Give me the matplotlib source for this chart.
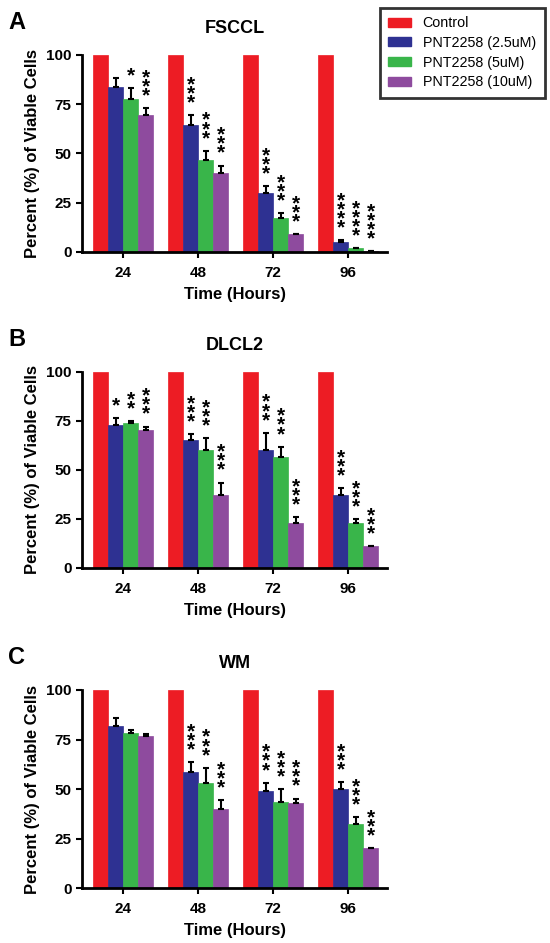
import matplotlib
matplotlib.use('Agg')
import matplotlib.pyplot as plt
import numpy as np
from matplotlib.patches import Patch

plt.rcParams['font.family'] = ['Liberation Sans', 'DejaVu Sans']

# DATA
hours = ['24', '48', '72', '96']
groups = ['Control', 'PNT2258 (2.5uM)', 'PNT2258 (5uM)', 'PNT2258 (10uM)']
colors = ['#ED1C24', '#2E3192', '#39B54A', '#8E4B9E']

# FSCCL
fsccl_vals = [[100, 100, 100, 100],
              [83.6, 64.5, 29.8, 4.9],
              [77.7, 46.7, 17.4, 1.8],
              [69.5, 40.0, 9.0, 0.5]]
fsccl_err = [[0, 0, 0, 0],
             [4.5, 5.0, 3.7, 1.0],
             [5.4, 4.6, 2.2, 0],
             [3.5, 3.8, 0, 0]]
fsccl_sig = [['', '', '', ''],
             ['', '***', '***', '****'],
             ['*', '***', '***', '****'],
             ['***', '***', '***', '****']]

# DLCL2
dlcl2_vals = [[100, 100, 100, 100],
              [73.0, 65.3, 59.9, 37.2],
              [73.8, 59.9, 56.8, 22.8],
              [70.4, 37.2, 22.8, 11.2]]
dlcl2_err = [[0, 0, 0, 0],
             [3.4, 3.0, 9.0, 3.4],
             [1.0, 6.3, 5.0, 2.2],
             [1.7, 6.3, 3.0, 0]]
dlcl2_sig = [['', '', '', ''],
             ['*', '***', '***', '***'],
             ['**', '***', '***', '***'],
             ['***', '***', '***', '***']]

# WM
wm_vals = [[100, 100, 100, 100],
           [81.8, 58.7, 49.0, 50.0],
           [78.1, 53.2, 43.5, 32.3],
           [76.9, 39.9, 43.0, 20.0]]
wm_err = [[0, 0, 0, 0],
          [3.9, 5.0, 4.2, 3.4],
          [1.7, 7.5, 6.3, 3.4],
          [0.7, 4.5, 2.2, 0]]
wm_sig = [['', '', '', ''],
          ['', '***', '***', '***'],
          ['', '***', '***', '***'],
          ['', '***', '***', '***']]

panels = [('A', 'FSCCL', fsccl_vals, fsccl_err, fsccl_sig, [0.149, 0.7328, 0.555, 0.209]),
          ('B', 'DLCL2', dlcl2_vals, dlcl2_err, dlcl2_sig, [0.149, 0.3977, 0.555, 0.208]),
          ('C', 'WM', wm_vals, wm_err, wm_sig, [0.149, 0.0583, 0.555, 0.210])]

fig = plt.figure(figsize=(5.5, 9.43), dpi=100)
x = np.arange(len(hours))
w = 0.2
star_fs = 15

for letter, title, vals, errs, sigs, pos in panels:
    ax = fig.add_axes(pos)
    for i in range(4):
        xi = x + (i - 1.5) * w
        ax.bar(xi, vals[i], width=w, color=colors[i], edgecolor=colors[i], linewidth=0.5)
        if i > 0:
            e = np.array(errs[i])
            ax.errorbar(xi, vals[i], yerr=[np.zeros_like(e), e], fmt='none',
                        ecolor='black', elinewidth=1.5, capsize=2.5, capthick=1.5)
            for j in range(4):
                if sigs[i][j]:
                    # stack the stars in a column
                    ax.annotate('\n'.join(sigs[i][j]), xy=(xi[j], vals[i][j] + errs[i][j]),
                                xytext=(0, 2), textcoords='offset points',
                                ha='center', va='bottom', linespacing=0.34,
                                fontsize=star_fs, fontweight='bold')
    ax.set_xlim(-0.55, 3.52)
    ax.set_ylim(0, 100)
    ax.set_yticks([0, 25, 50, 75, 100])
    ax.set_xticks(x)
    ax.set_xticklabels(hours)
    for s in ['top', 'right']:
        ax.spines[s].set_visible(False)
    for s in ['left', 'bottom']:
        ax.spines[s].set_linewidth(2)
    ax.tick_params(axis='both', width=1.5, length=4, labelsize=11)
    for lab in ax.get_xticklabels() + ax.get_yticklabels():
        lab.set_fontweight('bold')
    ax.tick_params(axis='x', pad=6)
    ax.set_xlabel('Time (Hours)', fontsize=12, fontweight='bold', labelpad=5)
    ax.set_ylabel('Percent (%) of Viable Cells', fontsize=12, fontweight='bold', labelpad=4)
    ax.set_title(title, fontsize=13, fontweight='bold', pad=16)
    fig.text(0.015, pos[1] + pos[3] + 0.034, letter, fontsize=17, fontweight='bold',
             ha='left', va='center')

handles = [Patch(facecolor=c, edgecolor=c) for c in colors]
leg = fig.legend(handles, groups, loc='upper right', bbox_to_anchor=(0.99, 0.992),
                 borderaxespad=0, fontsize=10.3, frameon=True, fancybox=False,
                 edgecolor='black', handlelength=1.6, handleheight=0.6,
                 borderpad=0.6, labelspacing=0.4)
leg.get_frame().set_linewidth(2)

fig.savefig('out.png', dpi=100)
